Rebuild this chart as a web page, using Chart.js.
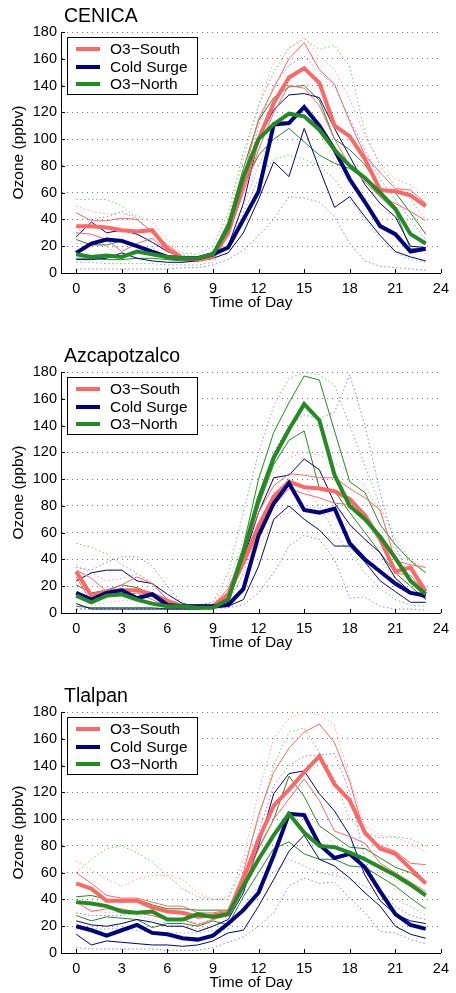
<!DOCTYPE html>
<html>
<head>
<meta charset="utf-8">
<script src="https://cdn.jsdelivr.net/npm/chart.js@4"></script>
<style>
  html, body { margin: 0; padding: 0; background: #fff; overflow: hidden; }
  .panel { position: absolute; left: 0; width: 456px; height: 340px; }
</style>
</head>
<body>
<div class="panel" style="top:0px"><canvas id="chart-cenica" width="456" height="340"></canvas></div>
<div class="panel" style="top:340px"><canvas id="chart-azc" width="456" height="340"></canvas></div>
<div class="panel" style="top:680px"><canvas id="chart-tla" width="456" height="340"></canvas></div>
<script>
// hour of day
var hours = [0,1,2,3,4,5,6,7,8,9,10,11,12,13,14,15,16,17,18,19,20,21,22,23];
var xTicks = [0,3,6,9,12,15,18,21,24];

// CENICA
var cenSouthMean  = [35,35,34,32,31,32,18,11,10,12,30,66,100,127,146,153,142,110,102,85,62,61,58,50];
var cenSouthUpper = [45,39,39,41,40,31,21,12,10,13,33,72,115,138,160,172,152,141,113,88,75,63,62,52];
var cenSouthLower = [30,29,25,16,22,26,16,12,10,11,28,60,92,120,140,138,125,100,80,68,57,52,46,39];
var cenSouthMax   = [50,46,44,44,43,38,25,14,12,15,40,85,125,158,168,176,162,152,130,102,82,70,66,56];
var cenSouthMin   = [22,22,20,12,15,20,10,9,8,10,22,50,80,105,118,118,105,85,66,56,48,42,36,30];

var cenColdMean  = [15,22,25,24,20,16,12,11,11,14,19,40,61,111,112,124,110,92,70,53,35,29,16,18];
var cenColdUpper = [27,38,30,32,29,23,16,12,12,15,20,52,100,122,133,134,131,108,87,66,52,42,20,19];
var cenColdLower = [10,10,11,15,11,9,8,8,9,11,15,30,55,83,72,108,78,49,57,42,28,16,12,9];
var cenColdMax   = [30,40,42,46,40,30,20,13,12,16,30,65,110,140,155,162,150,140,115,92,70,55,40,25];
var cenColdMin   = [3,3,3,3,3,3,3,4,4,6,10,17,28,40,57,56,53,42,22,9,5,4,3,2];

var cenNorthMean  = [14,12,13,12,16,14,12,11,11,14,34,72,100,111,119,117,107,92,80,71,60,48,29,22];
var cenNorthUpper = [25,21,21,24,20,15,12,11,11,15,38,78,114,131,139,140,129,100,92,81,63,60,45,29];
var cenNorthLower = [11,11,10,10,11,11,10,9,10,13,30,65,88,100,108,98,88,82,78,70,57,46,18,19];
var cenNorthMax   = [55,55,55,50,41,30,20,15,14,20,45,90,125,150,168,175,167,170,154,105,80,65,55,40];
var cenNorthMin   = [8,8,7,7,7,7,6,6,6,8,20,45,70,85,88,85,80,70,55,40,25,15,10,8];

// Azcapotzalco
var azcSouthMean  = [31,13,16,17,17,14,9,5,5,5,14,38,65,87,98,94,93,91,85,73,55,31,34,16];
var azcSouthUpper = [32,26,16,21,27,22,10,5,5,6,18,45,75,95,104,103,101,101,93,86,77,39,36,34];
var azcSouthLower = [27,8,12,13,15,10,5,4,4,5,12,35,60,80,93,89,86,82,81,70,55,30,28,15];
var azcSouthMax   = [36,30,24,26,29,23,11,6,6,8,22,55,85,105,116,120,118,112,106,95,75,45,38,35];
var azcSouthMin   = [15,5,8,9,10,6,4,3,3,4,10,28,50,70,75,80,78,72,65,55,40,25,22,12];

var azcColdMean  = [15,10,15,17,11,14,6,5,5,5,6,18,58,82,97,77,75,78,52,40,31,22,15,13];
var azcColdUpper = [24,30,32,32,24,22,14,7,5,5,8,40,75,101,103,115,107,82,66,55,45,26,16,11];
var azcColdLower = [7,3,3,3,3,3,3,3,3,4,5,10,35,70,80,70,62,50,50,38,24,16,8,8];
var azcColdMax   = [34,32,38,42,42,35,20,7,6,7,15,40,80,120,140,148,145,150,178,140,90,50,25,15];
var azcColdMin   = [3,3,3,3,3,3,3,3,3,3,4,6,15,30,50,58,55,40,11,12,5,3,3,2];

var azcNorthMean  = [13,8,13,14,10,7,5,5,4,4,10,45,85,116,137,156,144,103,80,70,57,41,24,14];
var azcNorthUpper = [21,15,17,21,19,14,9,5,4,5,15,50,100,135,157,177,174,136,98,90,66,51,39,30];
var azcNorthLower = [5,4,4,4,4,4,3,3,3,4,12,42,80,111,129,136,93,91,75,60,45,30,20,10];
var azcNorthMax   = [52,49,44,36,30,22,10,6,6,8,30,75,120,155,175,180,178,170,140,110,80,55,40,30];
var azcNorthMin   = [3,3,3,3,3,3,3,3,3,3,8,30,60,90,100,95,80,60,45,30,18,10,6,5];

// Tlalpan
var tlaSouthMean  = [52,48,39,39,39,34,31,30,27,28,30,55,85,110,122,135,147,126,114,90,78,74,63,52];
var tlaSouthUpper = [60,52,43,41,41,38,35,35,30,30,32,60,103,135,153,165,171,157,128,88,80,76,67,66];
var tlaSouthLower = [38,31,33,33,30,28,25,25,21,25,28,50,78,100,115,130,114,91,87,82,67,60,53,46];
var tlaSouthMax   = [69,62,55,50,55,58,58,55,45,40,42,70,120,160,175,180,178,170,130,95,88,86,82,75];
var tlaSouthMin   = [40,32,30,30,28,25,22,20,18,20,25,45,70,90,100,105,95,80,75,70,60,55,50,42];

var tlaColdMean  = [20,17,13,17,21,15,14,11,10,13,22,32,45,73,104,103,81,71,74,64,46,29,21,18];
var tlaColdUpper = [24,21,20,22,25,23,20,20,16,20,25,45,80,119,134,136,119,106,88,58,39,29,24,22];
var tlaColdLower = [14,6,9,8,7,6,6,5,6,9,15,17,35,55,76,88,70,65,56,45,35,20,14,11];
var tlaColdMax   = [30,28,28,28,30,28,25,25,22,25,30,50,90,125,140,147,148,149,120,70,45,35,28,25];
var tlaColdMin   = [4,3,3,3,3,3,2,2,2,4,8,12,20,30,50,56,52,53,41,30,16,15,10,7];

var tlaNorthMean  = [38,37,35,31,30,31,25,25,29,27,29,50,70,88,104,90,80,79,75,70,64,58,51,43];
var tlaNorthUpper = [42,43,40,38,40,36,33,33,32,32,32,55,78,100,132,117,95,87,79,78,71,64,60,52];
var tlaNorthLower = [28,24,27,26,25,19,22,22,20,24,21,42,60,78,83,74,70,70,65,64,57,50,41,33];
var tlaNorthMax   = [60,70,78,80,75,68,58,48,42,40,40,65,100,140,165,168,150,130,100,90,86,87,85,80];
var tlaNorthMin   = [20,18,18,18,17,15,15,15,15,17,18,35,50,60,70,65,60,58,55,50,45,40,35,28];

var FONT = '"Liberation Sans", Arial, Helvetica, sans-serif';
var SOUTH = 'rgb(255,102,102)', COLD = 'rgb(0,0,128)', NORTH = 'rgb(34,139,34)';
var SOUTH_DOT = 'rgba(255,102,102,0.6)', COLD_DOT = 'rgba(40,40,190,0.55)', NORTH_DOT = 'rgba(34,160,34,0.6)';

Chart.defaults.font.family = FONT;
Chart.defaults.color = '#000';

function pts(arr) {
  return arr.map(function (v, i) { return { x: hours[i], y: v }; });
}

function groupSets(label, color, dotColor, meanOrder, mean, upper, lower, max, min) {
  var base = { fill: false, tension: 0, pointRadius: 0, borderJoinStyle: 'miter' };
  return [
    Object.assign({ label: label, data: pts(mean), borderColor: color, borderWidth: 4, order: meanOrder }, base),
    Object.assign({ data: pts(upper), borderColor: color, borderWidth: 1, order: 3 }, base),
    Object.assign({ data: pts(lower), borderColor: color, borderWidth: 1, order: 3 }, base),
    Object.assign({ data: pts(max), borderColor: dotColor, borderWidth: 1, borderDash: [1.5, 2.5], order: 4 }, base),
    Object.assign({ data: pts(min), borderColor: dotColor, borderWidth: 1, borderDash: [1.5, 2.5], order: 4 }, base)
  ];
}

// title, legend box and inward tick marks
var decorPlugin = {
  id: 'decor',
  afterDraw: function (chart, args, opts) {
    var ctx = chart.ctx;
    var xs = chart.scales.x, ys = chart.scales.y;
    ctx.save();
    ctx.strokeStyle = '#000';
    ctx.lineWidth = 1;
    ctx.beginPath();
    ys.ticks.forEach(function (t) {
      var py = Math.round(ys.getPixelForValue(t.value)) + 0.5;
      ctx.moveTo(xs.left, py); ctx.lineTo(xs.left + 4, py);
    });
    xs.ticks.forEach(function (t) {
      var px = Math.round(xs.getPixelForValue(t.value)) + 0.5;
      ctx.moveTo(px, ys.bottom); ctx.lineTo(px, ys.bottom - 4);
    });
    ctx.stroke();

    ctx.fillStyle = '#000';
    ctx.font = '19.5px ' + FONT;
    ctx.textBaseline = 'alphabetic';
    ctx.textAlign = 'left';
    ctx.fillText(opts.title, 64, 22);

    // legend
    ctx.fillStyle = '#fff';
    ctx.fillRect(67.5, 37.5, 130, 57);
    ctx.strokeRect(67.5, 37.5, 130, 57);
    var rows = [49, 67, 84];
    var items = chart.data.datasets.filter(function (d) { return d.label; });
    ctx.font = '15.5px ' + FONT;
    ctx.textBaseline = 'middle';
    items.forEach(function (d, i) {
      ctx.strokeStyle = d.borderColor;
      ctx.lineWidth = 4;
      ctx.beginPath();
      ctx.moveTo(76, rows[i]); ctx.lineTo(100, rows[i]);
      ctx.stroke();
      ctx.fillStyle = '#000';
      ctx.fillText(d.label, 110, rows[i] + 1);
    });
    ctx.restore();
  }
};

function makeChart(id, title, south, cold, north) {
  var datasets = []
    .concat(groupSets('O3\u2212South', SOUTH, SOUTH_DOT, 2, south[0], south[1], south[2], south[3], south[4]))
    .concat(groupSets('Cold Surge', COLD, COLD_DOT, 1, cold[0], cold[1], cold[2], cold[3], cold[4]))
    .concat(groupSets('O3\u2212North', NORTH, NORTH_DOT, 0, north[0], north[1], north[2], north[3], north[4]));

  return new Chart(document.getElementById(id), {
    type: 'line',
    data: { datasets: datasets },
    options: {
      responsive: false,
      animation: false,
      layout: { padding: { left: 0, top: 32, right: 10, bottom: 0 } },
      scales: {
        x: {
          type: 'linear', min: -1, max: 24,
          afterBuildTicks: function (s) { s.ticks = xTicks.map(function (v) { return { value: v }; }); },
          afterFit: function (s) { s.height = 67; },
          grid: { display: false, drawTicks: false },
          border: { display: true, color: '#000', width: 1 },
          ticks: { padding: 7, font: { size: 14.5 }, color: '#000' },
          title: { display: true, text: 'Time of Day', font: { size: 15.5 }, padding: { top: 0, bottom: 28 } }
        },
        y: {
          min: 0, max: 180,
          afterFit: function (s) { s.width = 61; },
          grid: { color: 'rgba(0,0,0,0.55)', lineWidth: 1, drawTicks: false },
          border: { display: true, color: '#000', width: 1, dash: [1, 4] },
          ticks: { stepSize: 20, padding: 4, font: { size: 14.5 }, color: '#000' },
          title: { display: true, text: 'Ozone (ppbv)', font: { size: 15.5 }, padding: { top: 9, bottom: 0 } }
        }
      },
      plugins: {
        legend: { display: false },
        tooltip: { enabled: false },
        decor: { title: title }
      }
    },
    plugins: [decorPlugin]
  });
}

makeChart('chart-cenica', 'CENICA',
  [cenSouthMean, cenSouthUpper, cenSouthLower, cenSouthMax, cenSouthMin],
  [cenColdMean, cenColdUpper, cenColdLower, cenColdMax, cenColdMin],
  [cenNorthMean, cenNorthUpper, cenNorthLower, cenNorthMax, cenNorthMin]);

makeChart('chart-azc', 'Azcapotzalco',
  [azcSouthMean, azcSouthUpper, azcSouthLower, azcSouthMax, azcSouthMin],
  [azcColdMean, azcColdUpper, azcColdLower, azcColdMax, azcColdMin],
  [azcNorthMean, azcNorthUpper, azcNorthLower, azcNorthMax, azcNorthMin]);

makeChart('chart-tla', 'Tlalpan',
  [tlaSouthMean, tlaSouthUpper, tlaSouthLower, tlaSouthMax, tlaSouthMin],
  [tlaColdMean, tlaColdUpper, tlaColdLower, tlaColdMax, tlaColdMin],
  [tlaNorthMean, tlaNorthUpper, tlaNorthLower, tlaNorthMax, tlaNorthMin]);
</script>
</body>
</html>
